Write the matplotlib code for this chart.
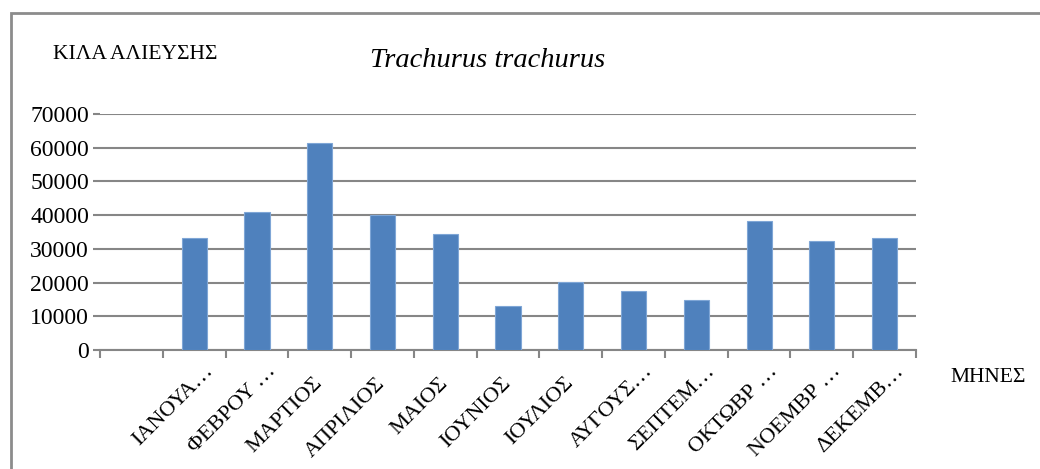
import matplotlib
matplotlib.use("Agg")
from matplotlib import pyplot as plt
from matplotlib.patches import Rectangle
from matplotlib.transforms import ScaledTranslation
import numpy as np

plt.rcParams['font.family'] = ['Liberation Serif', 'DejaVu Serif']

# months (the first category slot in the original sheet is empty)
months = ["ΙΑΝΟΥΑ…", "ΦΕΒΡΟΥ …", "ΜΑΡΤΙΟΣ", "ΑΠΡΙΛΙΟΣ", "ΜΑΙΟΣ", "ΙΟΥΝΙΟΣ",
          "ΙΟΥΛΙΟΣ", "ΑΥΓΟΥΣ…", "ΣΕΠΤΕΜ…", "ΟΚΤΩΒΡ …", "ΝΟΕΜΒΡ …", "ΔΕΚΕΜΒ…"]
catch_kg = [33300, 41000, 61300, 40000, 34500, 13000,
            20200, 17500, 14900, 38200, 32200, 33100]
y_ticks = [0, 10000, 20000, 30000, 40000, 50000, 60000, 70000]

fig = plt.figure(figsize=(10.4, 4.69), dpi=100)
ax = fig.add_axes([0.0962, 0.2537, 0.7846, 0.5032])

x = np.arange(1, len(months) + 1)
ax.bar(x, catch_kg, width=0.4, color='#4F81BD', edgecolor='#7FA6D6', linewidth=0.8, zorder=3)

ax.set_xlim(-0.5, len(months) + 0.5)
ax.set_ylim(0, 70000)
ax.set_yticks(y_ticks)
ax.set_yticklabels([str(v) for v in y_ticks], fontsize=17)
ax.grid(axis='y', color='#868686', linewidth=1.5, zorder=0)
ax.tick_params(axis='y', length=5, color='#868686', width=1.5, pad=3)

# labels at category centres, tick marks at category boundaries
ax.set_xticks(x)
ax.set_xticklabels(months, fontsize=16, rotation=45, ha='right', va='center',
                   rotation_mode='anchor')
ax.tick_params(axis='x', which='major', length=0, pad=22)
ax.set_xticks(np.arange(-0.5, len(months) + 1), minor=True)
ax.tick_params(axis='x', which='minor', length=6, color='#868686', width=1.5)

# truncated labels sit a bit further up and right in the original
for lab in ax.get_xticklabels():
    if "…" in lab.get_text():
        lab.set_transform(lab.get_transform() + ScaledTranslation(0.16, 0.12, fig.dpi_scale_trans))

for s in ['left', 'right', 'top']:
    ax.spines[s].set_visible(False)
ax.spines['bottom'].set_color('#868686')
ax.spines['bottom'].set_linewidth(1.5)

fig.text(0.469, 0.872, "Trachurus trachurus", fontsize=20.5, style='italic',
         ha='center', va='center')
fig.text(0.051, 0.883, "ΚΙΛΑ ΑΛΙΕΥΣΗΣ", fontsize=15.5, ha='left', va='center')
fig.text(0.950, 0.196, "ΜΗΝΕΣ", fontsize=15.5, ha='center', va='center')

# chart area frame
fig.patches.append(Rectangle((0.0106, -0.1), 1.2, 0.1 + 0.972, transform=fig.transFigure,
                             fill=False, edgecolor='#8C8C8C', linewidth=2))

fig.savefig("out.png", dpi=100)
